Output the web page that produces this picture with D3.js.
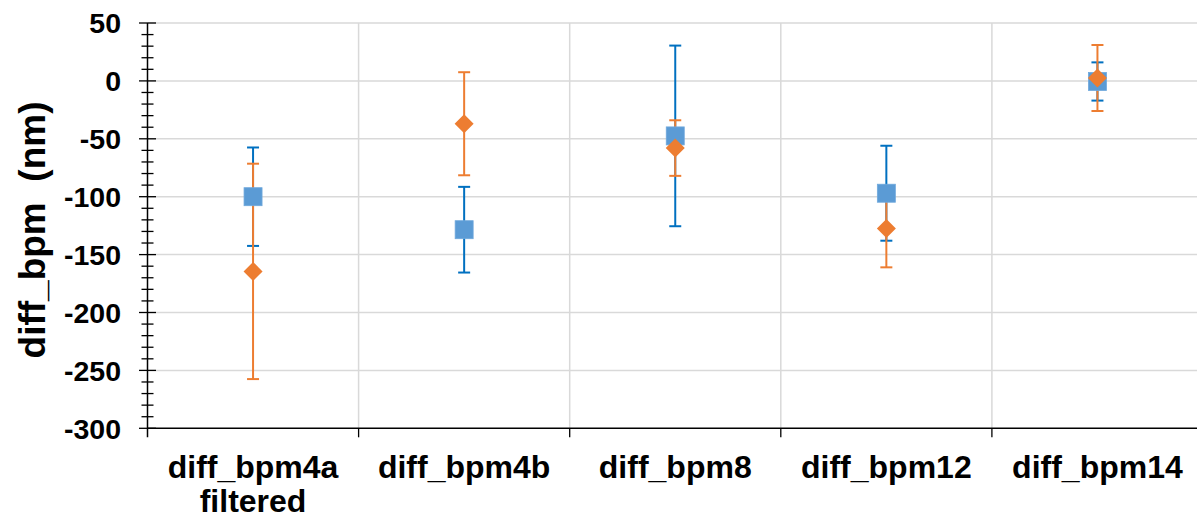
<!DOCTYPE html>
<html><head><meta charset="utf-8">
<script src="https://cdn.jsdelivr.net/npm/d3@7"></script>
<style>body{margin:0;background:#fff}svg{display:block;font-family:"Liberation Sans",Arial,sans-serif;font-weight:bold}</style>
</head><body><svg id="c" width="1197" height="518"></svg>
<script>
const categories = [["diff_bpm4a","filtered"],["diff_bpm4b"],["diff_bpm8"],["diff_bpm12"],["diff_bpm14"]];
const blueValues = [-100, -128.5, -47.5, -97, -0.5];
const blueErrors = [42.5, 37, 78, 41, 16.5];
const orangeValues = [-164.5, -37, -58, -127.5, 2.5];
const orangeErrors = [93, 44.5, 24, 33.5, 28.5];
const yTicks = [50, 0, -50, -100, -150, -200, -250, -300];

const svg = d3.select("#c");
const x = d3.scaleBand().domain(d3.range(categories.length)).range([147.5, 1203]);
const y = d3.scaleLinear().domain([-300, 50]).range([428.3, 23]);
const L = 147.5, R = 1203;

// gridlines
svg.append("g").selectAll("line").data(yTicks.filter(v => v !== -300)).join("line")
  .attr("x1", L).attr("x2", R).attr("y1", d => y(d)).attr("y2", d => y(d))
  .attr("stroke", "#d9d9d9").attr("stroke-width", 1.5);
svg.append("g").selectAll("line").data(d3.range(1, categories.length)).join("line")
  .attr("x1", d => x(d)).attr("x2", d => x(d)).attr("y1", y(50)).attr("y2", y(-300))
  .attr("stroke", "#d9d9d9").attr("stroke-width", 1.5);

// y axis
const minor = d3.range(-300, 51, 10);
svg.append("g").selectAll("line").data(minor).join("line")
  .attr("x1", d => d % 50 === 0 ? L - 8.5 : L - 6).attr("x2", d => d % 50 === 0 ? L + 8.5 : L + 6)
  .attr("y1", d => y(d)).attr("y2", d => y(d)).attr("stroke", "#000").attr("stroke-width", 1.3);
svg.append("line").attr("x1", L).attr("x2", L).attr("y1", y(50)).attr("y2", y(-300) + 9)
  .attr("stroke", "#000").attr("stroke-width", 1.5);
svg.append("g").selectAll("text").data(yTicks).join("text")
  .attr("x", 121).attr("y", d => y(d)).attr("dy", "0.36em").attr("text-anchor", "end")
  .attr("font-size", 28.5).text(d => d);

// x axis
svg.append("line").attr("x1", L).attr("x2", R).attr("y1", y(-300)).attr("y2", y(-300))
  .attr("stroke", "#000").attr("stroke-width", 1.5);
svg.append("g").selectAll("line").data(d3.range(1, categories.length)).join("line")
  .attr("x1", d => x(d)).attr("x2", d => x(d)).attr("y1", y(-300)).attr("y2", y(-300) + 9)
  .attr("stroke", "#000").attr("stroke-width", 1.3);
const cl = svg.append("g").selectAll("text").data(categories).join("text")
  .attr("x", (d, i) => x(i) + x.bandwidth() / 2).attr("y", 478).attr("text-anchor", "middle")
  .attr("font-size", 32);
cl.selectAll("tspan").data(d => d).join("tspan")
  .attr("x", function() { return this.parentNode.getAttribute("x"); })
  .attr("dy", (d, i) => i === 0 ? 0 : 34).text(d => d);

// y title
svg.append("text").attr("transform", "translate(45,230) rotate(-90)").attr("text-anchor", "middle")
  .attr("font-size", 37).style("white-space", "pre").text("diff_bpm  (nm)");

const cx = i => x(i) + x.bandwidth() / 2;
function errBars(vals, errs, color) {
  const g = svg.append("g").attr("stroke", color).attr("stroke-width", 2);
  vals.forEach((v, i) => {
    g.append("line").attr("x1", cx(i)).attr("x2", cx(i)).attr("y1", y(v + errs[i])).attr("y2", y(v - errs[i]));
    [v + errs[i], v - errs[i]].forEach(e => g.append("line").attr("x1", cx(i) - 6).attr("x2", cx(i) + 6).attr("y1", y(e)).attr("y2", y(e)));
  });
}
errBars(blueValues, blueErrors, "#0070c0");
errBars(orangeValues, orangeErrors, "#ed7d31");
svg.append("g").selectAll("rect").data(blueValues).join("rect")
  .attr("x", (d, i) => cx(i) - 9).attr("y", d => y(d) - 9).attr("width", 18).attr("height", 18)
  .attr("fill", "#5b9bd5").attr("stroke", "#6fa8dc").attr("stroke-width", 0.8);
svg.append("g").selectAll("path").data(orangeValues).join("path")
  .attr("d", (d, i) => `M${cx(i)},${y(d) - 9.5}L${cx(i) + 9.5},${y(d)}L${cx(i)},${y(d) + 9.5}L${cx(i) - 9.5},${y(d)}Z`)
  .attr("fill", "#ed7d31");
</script></body></html>
